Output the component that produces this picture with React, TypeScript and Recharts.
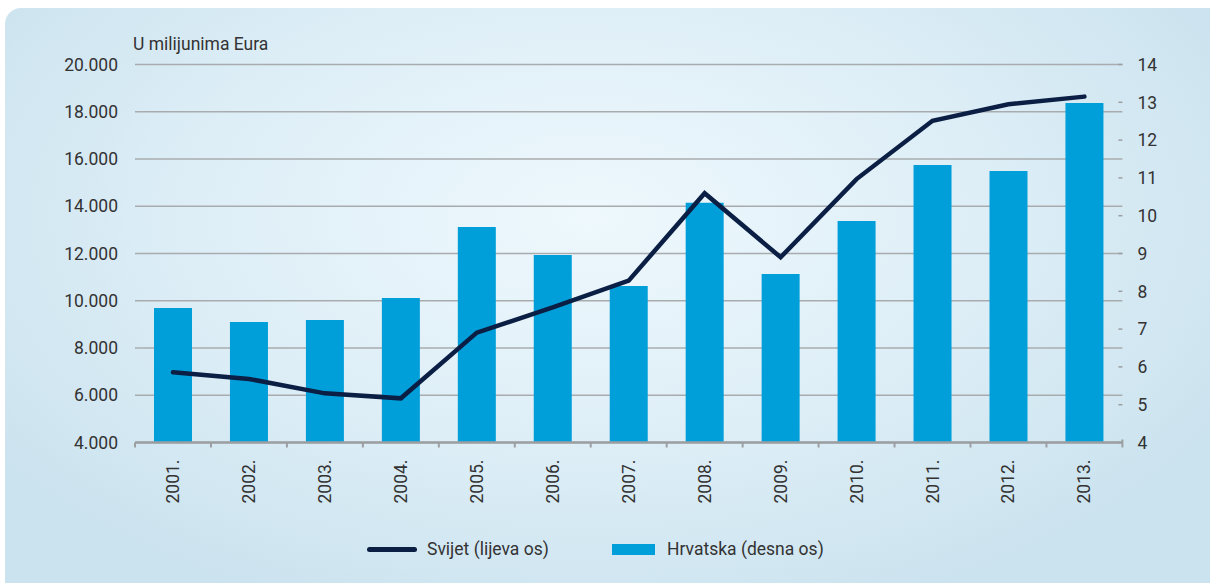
import { ComposedChart, Bar, Line, XAxis, YAxis, CartesianGrid, Legend } from "recharts";

const years = ["2001.", "2002.", "2003.", "2004.", "2005.", "2006.", "2007.", "2008.", "2009.", "2010.", "2011.", "2012.", "2013."];
// Svijet, u milijunima eura (lijeva os)
const svijet = [6970, 6690, 6080, 5870, 8650, 9720, 10850, 14550, 11840, 15150, 17620, 18320, 18640];
// Hrvatska (desna os)
const hrvatska = [7.56, 7.19, 7.24, 7.82, 9.7, 8.96, 8.14, 10.34, 8.46, 9.86, 11.34, 11.18, 12.98];

const leftTicks = [4000, 6000, 8000, 10000, 12000, 14000, 16000, 18000, 20000];
const rightTicks = [4, 5, 6, 7, 8, 9, 10, 11, 12, 13, 14];

const data = years.map((year, i) => ({ year, svijet: svijet[i], hrvatska: hrvatska[i] }));

const W = 1210;
const H = 583;
const PLOT_LEFT = 135;
const PLOT_RIGHT = 1122.4;
const HALF_BAND = (PLOT_RIGHT - PLOT_LEFT) / years.length / 2;

const FONT = "Roboto, sans-serif";
const TEXT = "#333";
const LINE_COLOR = "#0b1f45";
const BAR_COLOR = "#009fda";
const AXIS_GREY = "#9c9fa2";

const fmt = (v: number) => v.toLocaleString("de-DE");

function YearTick(props: any) {
  const { x, y, payload, index } = props;
  const ty = y + 17;
  return (
    <g>
      <line x1={x - HALF_BAND} x2={x - HALF_BAND} y1={y} y2={y + 5} stroke={AXIS_GREY} strokeWidth={2} />
      {index === years.length - 1 && (
        <line x1={x + HALF_BAND} x2={x + HALF_BAND} y1={y - 3} y2={y + 5} stroke={AXIS_GREY} strokeWidth={2} />
      )}
      <text
        x={x}
        y={ty}
        transform={`rotate(-90, ${x}, ${ty})`}
        textAnchor="end"
        dominantBaseline="central"
        fill={TEXT}
        fontSize={17.5}
        fontFamily={FONT}
      >
        {payload.value}
      </text>
    </g>
  );
}

function RightTick(props: any) {
  const { x, y, payload } = props;
  return (
    <g>
      <line x1={x - 19} x2={x - 15} y1={y} y2={y} stroke={AXIS_GREY} strokeWidth={1.5} />
      <text x={x} y={y} dy="0.36em" textAnchor="start" fill={TEXT} fontSize={17.5} fontFamily={FONT}>
        {payload.value}
      </text>
    </g>
  );
}

function ChartLegend() {
  return (
    <div style={{ position: "relative", height: 24, fontFamily: FONT, fontSize: 17.5, color: TEXT }}>
      <div style={{ position: "absolute", left: 367, top: 10, width: 50, height: 4.5, borderRadius: 3, background: LINE_COLOR }} />
      <span style={{ position: "absolute", left: 427, top: 0, lineHeight: "24px" }}>Svijet (lijeva os)</span>
      <div style={{ position: "absolute", left: 612, top: 7, width: 43, height: 11, background: BAR_COLOR }} />
      <span style={{ position: "absolute", left: 667, top: 0, lineHeight: "24px" }}>Hrvatska (desna os)</span>
    </div>
  );
}

export default function App() {
  return (
    <div style={{ position: "absolute", left: 0, top: 0, width: W, height: H, overflow: "hidden", background: "#fff" }}>
      <div
        style={{
          position: "absolute",
          left: 5,
          top: 8,
          width: 1215,
          height: 600,
          borderRadius: "16px 8px 0 16px",
          background: "radial-gradient(ellipse 60% 70% at 48% 35%, #eef8fd 0%, #dfeff7 50%, #cbe3ef 100%)",
        }}
      />
      <div
        style={{
          position: "absolute",
          left: 133,
          top: 34,
          fontFamily: FONT,
          fontSize: 17.5,
          color: TEXT,
          whiteSpace: "nowrap",
        }}
      >
        U milijunima Eura
      </div>
      <div style={{ position: "absolute", left: 0, top: 0 }}>
        <ComposedChart width={W} height={H} data={data} margin={{ top: 64.5, right: 0, bottom: 80.5, left: 0 }}>
          <CartesianGrid yAxisId="left" vertical={false} stroke="#a9acae" strokeWidth={1.5} />
          <XAxis
            dataKey="year"
            height={60}
            interval={0}
            tickLine={false}
            tickSize={0}
            tickMargin={0}
            axisLine={{ stroke: AXIS_GREY, strokeWidth: 2.5 }}
            tick={<YearTick />}
          />
          <YAxis
            yAxisId="left"
            orientation="left"
            width={135}
            domain={[4000, 20000]}
            ticks={leftTicks}
            tickFormatter={fmt}
            axisLine={false}
            tickLine={false}
            tickSize={0}
            tickMargin={17}
            tick={{ fill: TEXT, fontSize: 17.5, fontFamily: FONT }}
          />
          <YAxis
            yAxisId="right"
            orientation="right"
            width={87.6}
            domain={[4, 14]}
            ticks={rightTicks}
            axisLine={false}
            tickLine={false}
            tickSize={0}
            tickMargin={15}
            tick={<RightTick />}
          />
          <Bar yAxisId="right" dataKey="hrvatska" name="Hrvatska (desna os)" fill={BAR_COLOR} barSize={38} isAnimationActive={false} />
          <Line
            yAxisId="left"
            type="linear"
            dataKey="svijet"
            name="Svijet (lijeva os)"
            stroke={LINE_COLOR}
            strokeWidth={4.5}
            strokeLinecap="round"
            dot={false}
            activeDot={false}
            isAnimationActive={false}
          />
          <Legend
            layout="horizontal"
            align="center"
            verticalAlign="middle"
            wrapperStyle={{ position: "absolute", left: 0, top: 537, width: W, height: 24 }}
            content={<ChartLegend />}
          />
        </ComposedChart>
      </div>
    </div>
  );
}
